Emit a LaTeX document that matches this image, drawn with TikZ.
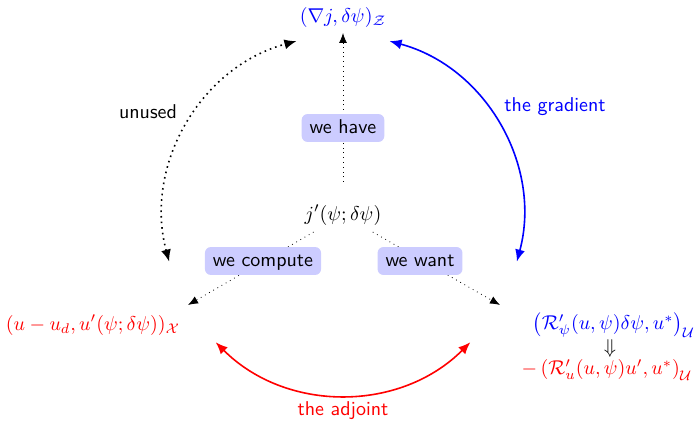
\documentclass[tikz,border=0pt]{standalone}
\usetikzlibrary{arrows.meta}
\begin{document}
\begin{tikzpicture}[x=0.5pt,y=0.5pt,
  lbl/.style={font=\sffamily, fill=blue!20, rounded corners=3pt, inner xsep=4pt, inner ysep=3pt, text height=1.6ex, text depth=0.25ex},
  thinarrow/.style={dotted, -{Latex[length=5pt,width=4pt]}},
  bigarrow/.style={thick, {Latex[length=6pt,width=5pt]}-{Latex[length=6pt,width=5pt]}},
  arclabel/.style={font=\sffamily},
  tight/.style={inner sep=0.5pt}
]
\useasboundingbox (0,0) rectangle (696,422);
% main nodes
\node (J) at (343,207) {$j'(\psi;\delta\psi)$};
\node[blue] (T) at (343,404) {$(\nabla j,\delta\psi)_{\mathcal{Z}}$};
\node[red] (L) at (93,97) {$(u-u_d,u'(\psi;\delta\psi))_{\mathcal{X}}$};
\node[blue, tight] (R1) at (614,97) {$\bigl(\mathcal{R}'_\psi(u,\psi)\delta\psi,u^*\bigr)_{\mathcal{U}}$};
\node[tight] (R2) at (610,73) {$\Downarrow$};
\node[red, tight] (R3) at (607,52) {$-\left(\mathcal{R}'_u(u,\psi)u',u^*\right)_{\mathcal{U}}$};
% arrow tips
\coordinate (tt) at (343,389);
\coordinate (lt) at (188,117);
\coordinate (rt) at (500,117);
% thin dotted connectors
\draw[thinarrow, shorten <=8pt] (J) -- (tt);
\draw[thinarrow] (J) -- (lt);
\draw[thinarrow] (J) -- (rt);
% labels on connectors
\node[lbl] (have) at (343,294) {we have};
\node[lbl] (compute) at (263,161) {we compute};
\node[lbl] (want) at (420,161) {we want};
% arcs
\path (J.center) ++(195:90pt) coordinate (uA);
\path (J.center) ++(75:90pt) coordinate (gA);
\path (J.center) ++(225:90pt) coordinate (aA);
\draw[bigarrow, dotted] (uA) arc[start angle=195, end angle=105, radius=90pt];
\draw[bigarrow, blue] (gA) arc[start angle=75, end angle=-15, radius=90pt];
\draw[bigarrow, red] (aA) arc[start angle=225, end angle=315, radius=90pt];
\node[arclabel] (unused) at (148,310) {unused};
\node[arclabel, blue] (grad) at (555,315) {the gradient};
\node[arclabel, red] (adj) at (343,11) {the adjoint};
\end{tikzpicture}
\end{document}
